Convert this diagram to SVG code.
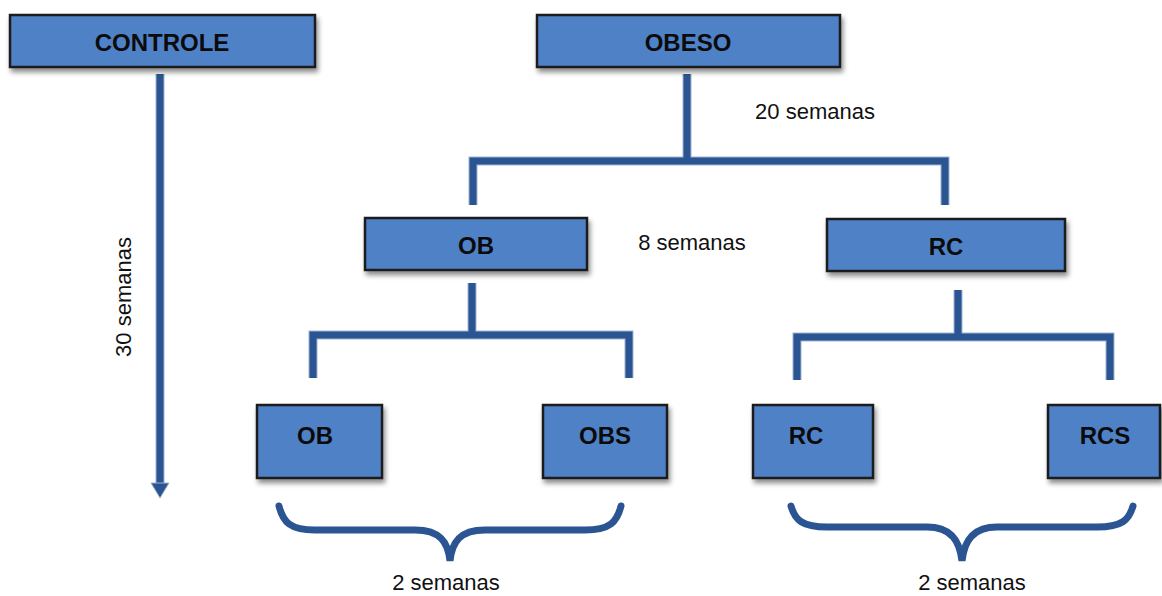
<svg xmlns="http://www.w3.org/2000/svg" width="1162" height="596" viewBox="0 0 1162 596">
<defs>
<filter id="sh" x="-10%" y="-20%" width="130%" height="160%">
<feDropShadow dx="2" dy="4" stdDeviation="2.5" flood-color="#000" flood-opacity="0.45"/>
</filter>
</defs>
<style>
.box{fill:#4F81C7;stroke:#1B1B1B;stroke-width:2.5;filter:url(#sh)}
.lbl{font-family:"Liberation Sans",Arial,sans-serif;font-weight:bold;font-size:24px;fill:#0B0B0B;text-anchor:middle;dominant-baseline:central}
.t{font-family:"Liberation Sans",Arial,sans-serif;font-size:22px;fill:#111;text-anchor:middle}
.c{fill:none;stroke:#2B5592;stroke-width:7;stroke-linejoin:miter}
.ce{fill:none;stroke:#9FB3CF;stroke-width:9}
.head{fill:#2B5592;stroke:#9FB3CF;stroke-width:1}
</style>
<g id="connectors">
<g class="ce">
<path d="M160,74 V486"/>
<path d="M687,74 V161"/>
<path d="M473,205 V161 H945 V205"/>
<path d="M472,283 V335"/>
<path d="M313,378 V335 H629 V378"/>
<path d="M958,290 V337"/>
<path d="M797,380 V337 H1110 V380"/>
</g>
<g class="c">
<path d="M160,74 V486"/>
<path d="M687,74 V161"/>
<path d="M473,205 V161 H945 V205"/>
<path d="M472,283 V335"/>
<path d="M313,378 V335 H629 V378"/>
<path d="M958,290 V337"/>
<path d="M797,380 V337 H1110 V380"/>
</g>
<polygon class="head" points="151,483 169,483 160,498"/>
<path class="c" d="M279,506 C283,522 290,530 315,530 H415 C440,530 448,542 450,561 C452,542 460,530 485,530 H585 C610,530 617,522 621,506" stroke-linecap="round"/>
<path class="c" d="M791,506 C795,520 802,527 827,527 H927 C952,527 960,542 962,561 C964,542 972,527 997,527 H1097 C1122,527 1129,520 1133,506" stroke-linecap="round"/>
</g>
<g id="controle"><rect class="box" x="10" y="15" width="305" height="52"/><text class="lbl" x="162" y="42">CONTROLE</text></g>
<g id="obeso"><rect class="box" x="537" y="15" width="303" height="52"/><text class="lbl" x="688" y="42">OBESO</text></g>
<g id="ob-mid"><rect class="box" x="365" y="218" width="222" height="52"/><text class="lbl" x="476" y="245">OB</text></g>
<g id="rc-mid"><rect class="box" x="827" y="219" width="238" height="52"/><text class="lbl" x="946" y="246">RC</text></g>
<g id="ob"><rect class="box" x="257" y="405" width="125" height="73"/><text class="lbl" x="315" y="435">OB</text></g>
<g id="obs"><rect class="box" x="543" y="405" width="124" height="73"/><text class="lbl" x="605" y="435">OBS</text></g>
<g id="rc"><rect class="box" x="753" y="405" width="120" height="73"/><text class="lbl" x="806" y="435">RC</text></g>
<g id="rcs"><rect class="box" x="1048" y="405" width="112" height="73"/><text class="lbl" x="1105" y="435">RCS</text></g>
<g id="labels">
<text class="t" x="815" y="119">20 semanas</text>
<text class="t" x="692" y="250">8 semanas</text>
<text class="t" transform="translate(131,297) rotate(-90)">30 semanas</text>
<text class="t" x="446" y="590">2 semanas</text>
<text class="t" x="972" y="590">2 semanas</text>
</g>
</svg>
